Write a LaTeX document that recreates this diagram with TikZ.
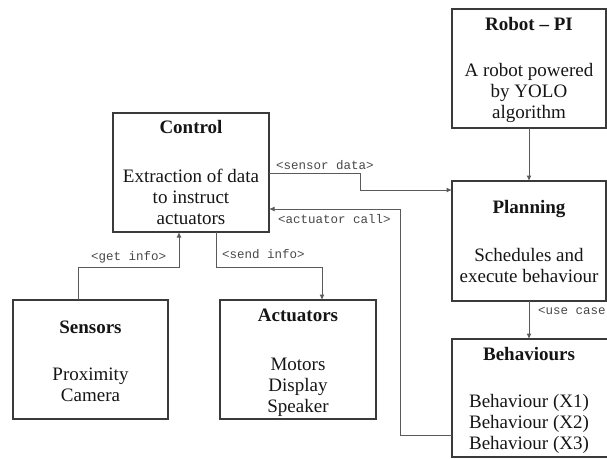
\documentclass[tikz,border=0pt]{standalone}
\usepackage{fontspec}
\setmainfont{Liberation Serif}
\newfontfamily\lblfont{Liberation Mono}
\usetikzlibrary{arrows.meta}
\definecolor{boxline}{HTML}{3A3A3A}
\definecolor{connline}{HTML}{5A5A5A}
\definecolor{txt}{HTML}{151515}
\tikzset{
  blk/.style={draw=boxline, line width=1.4pt, rectangle, inner sep=0pt, outer sep=0pt, fill=none},
  ttl/.style={anchor=base, font=\fontsize{19}{21}\selectfont\bfseries, text=txt, inner sep=0pt},
  bdy/.style={anchor=base, align=center, font=\fontsize{19}{21}\selectfont, text=txt, inner sep=0pt},
  lbl/.style={anchor=base west, font=\lblfont\fontsize{12.5}{14}\selectfont, text=connline!80!black, inner sep=0pt},
  conn/.style={draw=connline, line width=1pt},
  arr/.style={conn, -{Latex[length=5.5pt,width=5pt]}}
}
\begin{document}
\begin{tikzpicture}[x=1pt, y=-1pt]
\useasboundingbox (0,0) rectangle (607,458);
\clip (0,0) rectangle (607,458);
% boxes
\node[blk, minimum width=156pt, minimum height=119pt] (control) at (191,172.5) {};
\node[blk, minimum width=155pt, minimum height=119pt] (sensors) at (90.5,359.5) {};
\node[blk, minimum width=156pt, minimum height=119pt] (actuators) at (298,359.5) {};
\node[blk, minimum width=154pt, minimum height=119pt] (robot) at (529,68.5) {};
\node[blk, minimum width=154pt, minimum height=120pt] (planning) at (529,241) {};
\node[blk, minimum width=157pt, minimum height=118pt] (behaviours) at (530.5,398) {};
% texts (body nodes anchored at the baseline of their last line)
\node[ttl] (controlT) at (191,133) {Control};
\node[bdy] (controlB) at (191,224) {Extraction of data\\to instruct\\actuators};
\node[ttl] (sensorsT) at (90.5,333) {Sensors};
\node[bdy] (sensorsB) at (90.5,401) {Proximity\\Camera};
\node[ttl] (actuatorsT) at (298,321) {Actuators};
\node[bdy] (actuatorsB) at (298,412) {Motors\\Display\\Speaker};
\node[ttl] (robotT) at (529,30) {Robot -- PI};
\node[bdy] (robotB) at (529,118) {A robot powered\\by YOLO\\algorithm};
\node[ttl] (planningT) at (529,213) {Planning};
\node[bdy] (planningB) at (529,282) {Schedules and\\execute behaviour};
\node[ttl] (behavioursT) at (529,360) {Behaviours};
\node[bdy] (behavioursB) at (529,449) {Behaviour (X1)\\Behaviour (X2)\\Behaviour (X3)};
% connector coordinates
\coordinate (g1) at (78,267);
\coordinate (g2) at (179,267);
\coordinate (s1) at (216,267);
\coordinate (s2) at (322,267);
\coordinate (d1) at (360,173);
\coordinate (d2) at (360,190);
\coordinate (a1) at (400,435);
\coordinate (a2) at (400,209);
% connectors
\draw[arr] (sensors.north -| g1) -- (g1) -- (g2) -- (control.south -| g2);
\draw[arr] (control.south -| s1) -- (s1) -- (s2) -- (actuators.north -| s2);
\draw[arr] (control.east |- d1) -- (d1) -- (d2) -- (planning.west |- d2);
\draw[arr] (behaviours.west |- a1) -- (a1) -- (a2) -- (control.east |- a2);
\draw[arr] (robot.south) -- (planning.north);
\draw[arr] (planning.south) -- (behaviours.north -| planning.south);
% labels
\node[lbl] (lGet) at (91,260) {<get info>};
\node[lbl] (lSend) at (222,258) {<send info>};
\node[lbl] (lSensor) at (276,169) {<sensor data>};
\node[lbl] (lAct) at (278,223) {<actuator call>};
\node[lbl] (lUse) at (538,314) {<use case};
\end{tikzpicture}
\end{document}
